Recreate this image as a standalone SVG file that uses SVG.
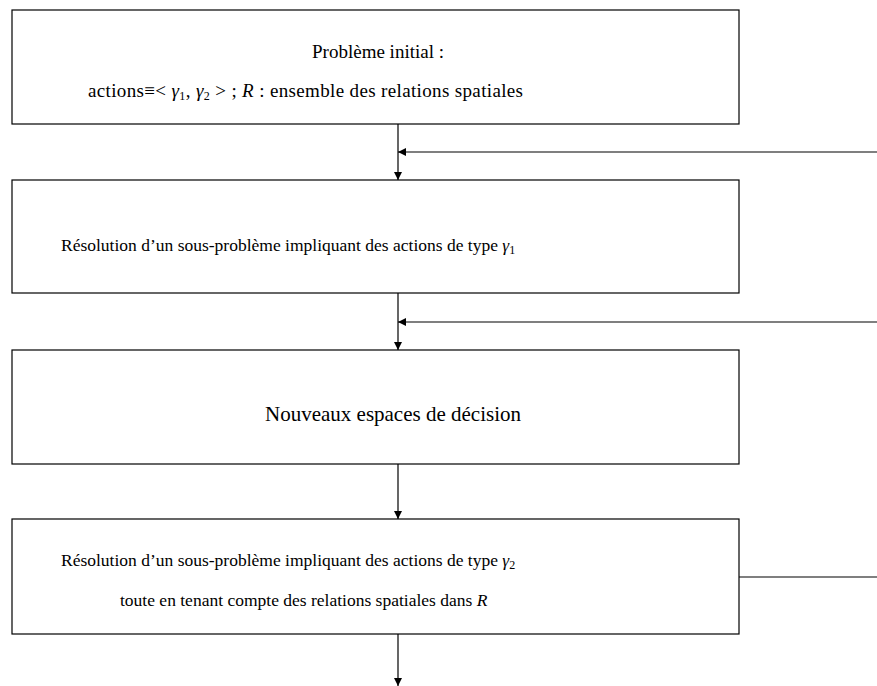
<svg xmlns="http://www.w3.org/2000/svg" width="877" height="686" viewBox="0 0 877 686">
<style>
.box{fill:#fff;stroke:#000;stroke-width:1.2}
.t{font-family:"Liberation Serif","DejaVu Serif",serif;fill:#000}
.a{font-size:19px}
.b{font-size:17.5px}
.d{font-size:21px}
.m{font-style:italic}
.s{font-size:12px}
.c{fill:none;stroke:#000;stroke-width:1.2}
</style>
<defs>
<marker id="ah" viewBox="0 0 10 10" refX="10" refY="5" markerWidth="8" markerHeight="8" markerUnits="userSpaceOnUse" orient="auto">
<path d="M0,0 L10,5 L0,10 z" fill="#000"/>
</marker>
</defs>
<rect width="877" height="686" fill="#fff"/>
<g id="connectors">
<path class="c" d="M398,124 V180" marker-end="url(#ah)"/>
<path class="c" d="M877,152 H398" marker-end="url(#ah)"/>
<path class="c" d="M398,293 V350" marker-end="url(#ah)"/>
<path class="c" d="M877,322 H398" marker-end="url(#ah)"/>
<path class="c" d="M398,464 V519" marker-end="url(#ah)"/>
<path class="c" d="M739,577 H877"/>
<path class="c" d="M398,634 V686" marker-end="url(#ah)"/>
</g>
<g id="n1">
<rect class="box" x="12" y="10" width="727" height="114"/>
<text class="t a" x="378" y="58" text-anchor="middle">Problème initial :</text>
<text class="t a" x="88" y="97" textLength="435" lengthAdjust="spacing">actions≡&lt; <tspan class="m">γ</tspan><tspan class="s" dy="3">1</tspan><tspan dy="-3">, </tspan><tspan class="m">γ</tspan><tspan class="s" dy="3">2</tspan><tspan dy="-3"> &gt; ; </tspan><tspan class="m">R</tspan> : ensemble des relations spatiales</text>
</g>
<g id="n2">
<rect class="box" x="12" y="180" width="727" height="113"/>
<text class="t b" x="61" y="251">Résolution d’un sous-problème impliquant des actions de type <tspan class="m">γ</tspan><tspan class="s" dy="3">1</tspan></text>
</g>
<g id="n3">
<rect class="box" x="12" y="350" width="727" height="114"/>
<text class="t d" x="393" y="421" text-anchor="middle">Nouveaux espaces de décision</text>
</g>
<g id="n4">
<rect class="box" x="12" y="519" width="727" height="115"/>
<text class="t b" x="61" y="566">Résolution d’un sous-problème impliquant des actions de type <tspan class="m">γ</tspan><tspan class="s" dy="3">2</tspan></text>
<text class="t b" x="120" y="606">toute en tenant compte des relations spatiales dans <tspan class="m">R</tspan></text>
</g>
</svg>
